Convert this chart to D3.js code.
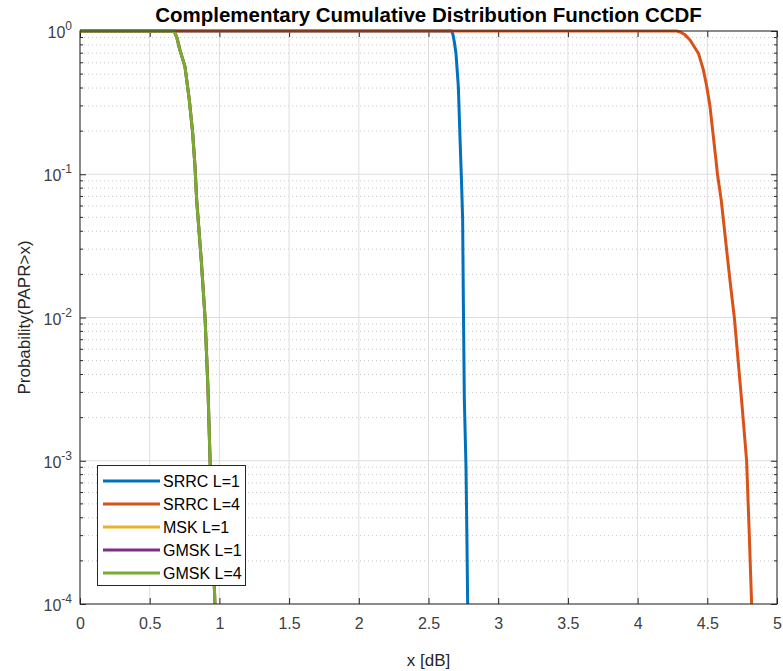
<!DOCTYPE html>
<html>
<head>
<meta charset="utf-8">
<script src="https://cdn.jsdelivr.net/npm/d3@7/dist/d3.min.js"></script>
<style>
  body { margin: 0; background: #fff; }
  text { font-family: "Liberation Sans", Arial, sans-serif; }
</style>
</head>
<body>
<svg width="783" height="671"></svg>
<script>
// series data (x in dB, probability)
var srrc1X = [0, 2.666, 2.675, 2.686, 2.697, 2.714, 2.726, 2.738, 2.745, 2.75, 2.757, 2.769, 2.775, 2.781];
var srrc1P = [1, 1, 0.95, 0.83, 0.70, 0.41, 0.18, 0.082, 0.048, 0.013, 0.0027, 0.0009, 0.00032, 0.0001];
var srrc4X = [0, 4.28, 4.31, 4.34, 4.376, 4.436, 4.472, 4.496, 4.519, 4.539, 4.562, 4.573, 4.60, 4.663, 4.694, 4.746, 4.782, 4.80, 4.818];
var srrc4P = [1, 1, 0.98, 0.94, 0.865, 0.70, 0.535, 0.41, 0.30, 0.20, 0.126, 0.1, 0.066, 0.018, 0.01, 0.00265, 0.001, 0.00033, 0.0001];
var gmskX = [0, 0.67, 0.68, 0.695, 0.717, 0.753, 0.784, 0.808, 0.825, 0.837, 0.87, 0.897, 0.918, 0.933, 0.95, 0.968];
var gmskP = [1, 1, 0.975, 0.9, 0.736, 0.564, 0.331, 0.195, 0.113, 0.066, 0.025, 0.01, 0.0032, 0.001, 0.00032, 0.0001];

var labels = ["SRRC L=1", "SRRC L=4", "MSK L=1", "GMSK L=1", "GMSK L=4"];
var colors = ["#0072BD", "#D95319", "#EDB120", "#7E2F8E", "#77AC30"];
var seriesX = [srrc1X, srrc4X, gmskX, gmskX, gmskX];
var seriesP = [srrc1P, srrc4P, gmskP, gmskP, gmskP];

var xTicks = [0, 0.5, 1, 1.5, 2, 2.5, 3, 3.5, 4, 4.5, 5];
var yTicks = [1, 0.1, 0.01, 0.001, 0.0001];
var yExp = ["0", "-1", "-2", "-3", "-4"];

var L = 80, R = 777, T = 31, B = 604;
var svg = d3.select("svg");

var x = d3.scaleLinear().domain([0, 5]).range([L, R]);
var y = d3.scaleLog().domain([1e-4, 1]).range([B, T]);

// minor y values
var minor = [];
for (var e = -4; e < 0; e++) {
  for (var m = 2; m <= 9; m++) minor.push(m * Math.pow(10, e));
}

var grid = svg.append("g");
grid.selectAll(".mg").data(minor).enter().append("line")
  .attr("x1", L).attr("x2", R)
  .attr("y1", function(d){ return y(d); }).attr("y2", function(d){ return y(d); })
  .attr("stroke", "#c8c8c8").attr("stroke-width", 1).attr("stroke-dasharray", "1,3");
grid.selectAll(".vx").data(xTicks).enter().append("line")
  .attr("x1", function(d){ return x(d); }).attr("x2", function(d){ return x(d); })
  .attr("y1", T).attr("y2", B)
  .attr("stroke", "#dedede").attr("stroke-width", 1);
grid.selectAll(".hy").data(yTicks).enter().append("line")
  .attr("x1", L).attr("x2", R)
  .attr("y1", function(d){ return y(d); }).attr("y2", function(d){ return y(d); })
  .attr("stroke", "#dedede").attr("stroke-width", 1);

// axes (MATLAB style: inward ticks)
var axCol = "#262626";
svg.append("g").attr("transform", "translate(0," + B + ")")
  .call(d3.axisBottom(x).tickValues(xTicks).tickSizeInner(-6).tickSizeOuter(0).tickPadding(14)
        .tickFormat(function(d){ return String(d); }))
  .call(function(g){
    g.select(".domain").remove();
    g.selectAll("line").attr("stroke", axCol);
    g.selectAll("text").attr("font-size", 16).attr("fill", "#404040")
      .attr("font-family", "Liberation Sans, Arial, sans-serif");
  });
svg.append("g").attr("transform", "translate(0," + T + ")")
  .call(d3.axisTop(x).tickValues(xTicks).tickSizeInner(-6).tickSizeOuter(0).tickFormat(""))
  .call(function(g){ g.select(".domain").remove(); g.selectAll("line").attr("stroke", axCol); });

svg.append("g").attr("transform", "translate(" + L + ",0)")
  .call(d3.axisLeft(y).tickValues(yTicks).tickSizeInner(-6).tickSizeOuter(0).tickFormat(""))
  .call(function(g){ g.select(".domain").remove(); g.selectAll("line").attr("stroke", axCol); });
svg.append("g").attr("transform", "translate(" + R + ",0)")
  .call(d3.axisRight(y).tickValues(yTicks).tickSizeInner(-6).tickSizeOuter(0).tickFormat(""))
  .call(function(g){ g.select(".domain").remove(); g.selectAll("line").attr("stroke", axCol); });
svg.append("g").selectAll("line").data(minor).enter().append("line")
  .attr("x1", L).attr("x2", L + 3)
  .attr("y1", function(d){ return y(d); }).attr("y2", function(d){ return y(d); })
  .attr("stroke", axCol);
svg.append("g").selectAll("line").data(minor).enter().append("line")
  .attr("x1", R).attr("x2", R - 3)
  .attr("y1", function(d){ return y(d); }).attr("y2", function(d){ return y(d); })
  .attr("stroke", axCol);

// y tick labels as 10^n
yTicks.forEach(function(d, i){
  var t = svg.append("text").attr("x", 72).attr("y", y(d) + 7)
    .attr("text-anchor", "end").attr("font-size", 16).attr("fill", "#404040");
  t.append("tspan").text("10");
  t.append("tspan").attr("dy", -8).attr("font-size", 12).text(yExp[i]);
});

// curves
var line = d3.line()
  .x(function(d){ return x(d[0]); }).y(function(d){ return y(d[1]); });
svg.append("clipPath").attr("id", "clip").append("rect")
  .attr("x", L).attr("y", T - 2).attr("width", R - L).attr("height", B - T + 2);
var curves = svg.append("g").attr("clip-path", "url(#clip)");
seriesX.forEach(function(xs, i){
  var pts = xs.map(function(v, j){ return [v, seriesP[i][j]]; });
  curves.append("path").datum(pts).attr("d", line)
    .attr("fill", "none").attr("stroke", colors[i]).attr("stroke-width", 3)
    .attr("stroke-linejoin", "round");
});

// box
svg.append("rect").attr("x", L).attr("y", T).attr("width", R - L).attr("height", B - T)
  .attr("fill", "none").attr("stroke", axCol).attr("stroke-width", 1);

// title & labels
svg.append("text").attr("x", (L + R) / 2).attr("y", 22).attr("text-anchor", "middle")
  .attr("font-size", 20.5).attr("font-weight", "bold").attr("fill", "#000")
  .text("Complementary Cumulative Distribution Function CCDF");
svg.append("text").attr("x", (L + R) / 2).attr("y", 666).attr("text-anchor", "middle")
  .attr("font-size", 17).attr("fill", "#262626").text("x [dB]");
svg.append("text").attr("transform", "translate(30," + ((T + B) / 2) + ") rotate(-90)")
  .attr("text-anchor", "middle").attr("font-size", 17).attr("fill", "#262626")
  .text("Probability(PAPR>x)");

// legend
var lg = svg.append("g");
lg.append("rect").attr("x", 97.5).attr("y", 465.5).attr("width", 148).attr("height", 120)
  .attr("fill", "#fff").attr("stroke", axCol).attr("stroke-width", 1);
labels.forEach(function(s, i){
  var yy = 481 + i * 23;
  lg.append("line").attr("x1", 103).attr("x2", 160).attr("y1", yy).attr("y2", yy)
    .attr("stroke", colors[i]).attr("stroke-width", 3);
  lg.append("text").attr("x", 163).attr("y", yy + 6).attr("font-size", 16)
    .attr("fill", "#000").text(s);
});
</script>
</body>
</html>
